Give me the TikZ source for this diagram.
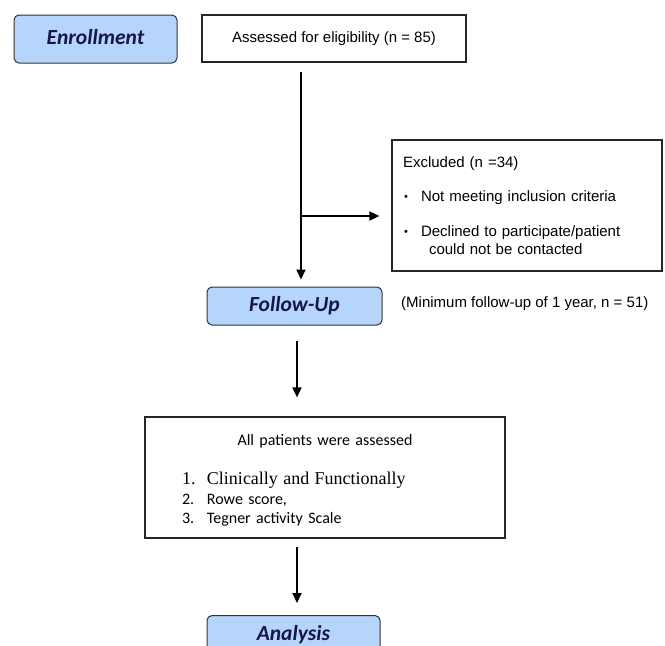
\documentclass[tikz,border=0pt]{standalone}
\usepackage{fontspec}
\setmainfont{Liberation Serif}
\setsansfont{Liberation Sans}
\newfontfamily\calfont{Carlito}
\usetikzlibrary{arrows.meta,positioning}

\definecolor{stagefill}{HTML}{B5D5FB}
\definecolor{stagetext}{HTML}{16164A}
\newcommand{\exbullet}{\makebox[18pt][l]{\hspace{1pt}\raisebox{1pt}{\fontsize{11}{11}\selectfont\textbullet}}}

\begin{document}
\begin{tikzpicture}[
    x=1pt, y=-1pt,
    stage/.style={draw=black!80, fill=stagefill, rounded corners=5pt, line width=1pt,
        font=\calfont\bfseries\itshape\fontsize{21.5}{24}\selectfont, text=stagetext},
    box/.style={draw=black!85, line width=1.2pt, align=center, inner sep=0pt,
        font=\sffamily\fontsize{15}{17.5}\selectfont},
    arr/.style={-{Triangle[length=10pt,width=9pt]}, line width=1.8pt}
]
\useasboundingbox (0,0) rectangle (665,646);
\clip (0,0) rectangle (665,646);

% stage labels
\node[stage, minimum width=163pt, minimum height=48pt] (enroll) at (95.5,39) {\raisebox{5pt}{Enrollment}};
\node[stage, minimum width=175pt, minimum height=38pt] (fup) at (294.5,306) {Follow-Up};
\node[stage, minimum width=173pt, minimum height=38pt, anchor=north] (analysis) at (293.5,615) {Analysis};

% boxes
\node[box, minimum width=264pt, minimum height=47pt] (assess) at (334,38.5)
    {Assessed for eligibility (n = 85)};
\node[box, minimum width=270pt, minimum height=131pt, align=left, text width=248pt] (excl) at (527,205.5)
    {Excluded (n =34)\\[16pt]
     \exbullet Not meeting inclusion criteria\\[18pt]
     \exbullet Declined to participate/patient\\[0pt]
     \hspace*{26pt}could not be contacted};
\node[font=\sffamily\fontsize{15}{17.5}\selectfont, anchor=west, inner sep=0pt] (minfup) at (401,304)
    {(Minimum follow-up of 1 year, n = 51)};
\node[box, minimum width=360pt, minimum height=121pt, align=left, text width=286pt,
    font=\calfont\fontsize{16}{19}\selectfont] (assessed) at (325,477.5)
    {\rule{0pt}{16pt}\makebox[286pt][c]{All patients were assessed}\\[20pt]
     {\rmfamily\fontsize{18}{20}\selectfont\makebox[25pt][l]{1.}Clinically and Functionally}\\[1pt]
     \makebox[25pt][l]{2.}Rowe\ score,\\[0pt]
     \makebox[25pt][l]{3.}Tegner activity Scale};

% connectors
\coordinate (split) at (301,216);
\draw[arr, shorten <=9pt, shorten >=7pt] (assess.south -| split) -- (fup.north -| split);
\draw[arr, shorten >=12pt] (split) -- (excl.west |- split);
\draw[arr, shorten <=15pt, shorten >=19pt] (fup.south -| 297,0) -- (assessed.north -| 297,0);
\draw[arr, shorten <=8pt, shorten >=12pt] (assessed.south -| 297,0) -- (analysis.north -| 297,0);
\end{tikzpicture}
\end{document}
